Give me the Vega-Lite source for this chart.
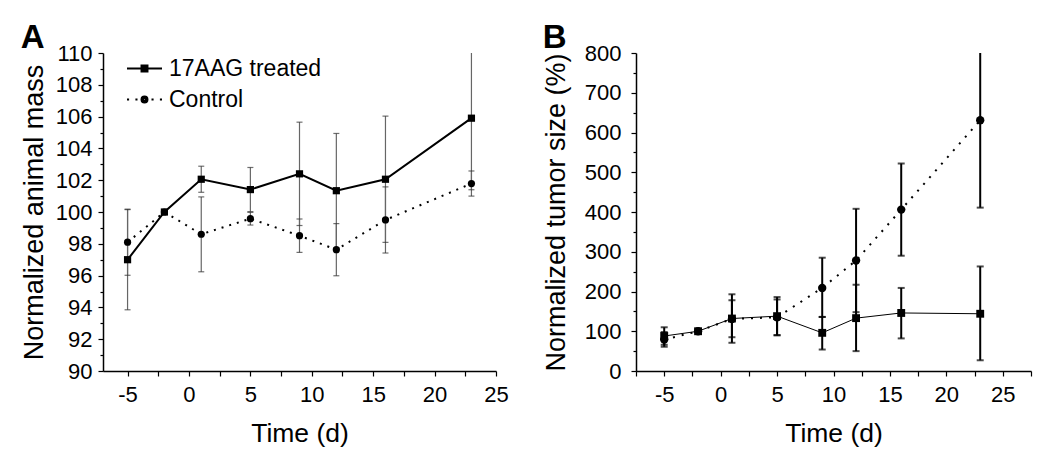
{
  "$schema": "https://vega.github.io/schema/vega-lite/v6.json",
  "background": "white",
  "autosize": {"type": "pad"},
  "padding": {"left": 20, "top": 22, "right": 5, "bottom": 5},
  "spacing": 33,
  "config": {
    "view": {"stroke": null},
    "font": "Liberation Sans",
    "axis": {
      "domainColor": "black", "domainWidth": 1.5, "tickColor": "black", "tickWidth": 1.2, "tickSize": 5,
      "labelFont": "Liberation Sans", "labelFontSize": 22, "labelColor": "black",
      "labelOverlap": false, "labelFlush": false,
      "titleFont": "Liberation Sans", "titleFontWeight": "normal", "titleColor": "black",
      "grid": false
    },
    "axisX": {"labelPadding": 8, "titlePadding": 15, "titleFontSize": 26.5},
    "axisY": {"titleFontSize": 27},
    "legend": {"labelFont": "Liberation Sans", "labelFontSize": 23, "labelColor": "black", "symbolOpacity": 1},
    "title": {"font": "Liberation Sans", "fontSize": 33, "fontWeight": "bold", "anchor": "start", "color": "black", "frame": "bounds", "offset": -13}
  },
  "datasets": {
    "mass": [
      {"series": "17AAG treated", "time": -5, "value": 97.0, "lo": 93.85, "hi": 100.15},
      {"series": "17AAG treated", "time": -2, "value": 100.0, "lo": null, "hi": null},
      {"series": "17AAG treated", "time": 1, "value": 102.06, "lo": 101.24, "hi": 102.88},
      {"series": "17AAG treated", "time": 5, "value": 101.41, "lo": 100.02, "hi": 102.8},
      {"series": "17AAG treated", "time": 9, "value": 102.4, "lo": 99.15, "hi": 105.65},
      {"series": "17AAG treated", "time": 12, "value": 101.34, "lo": 97.74, "hi": 104.94},
      {"series": "17AAG treated", "time": 16, "value": 102.06, "lo": 98.09, "hi": 106.03},
      {"series": "17AAG treated", "time": 23, "value": 105.9, "lo": 101.4, "hi": 110.4},
      {"series": "Control", "time": -5, "value": 98.1, "lo": 96.02, "hi": 100.18},
      {"series": "Control", "time": -2, "value": 100.0, "lo": null, "hi": null},
      {"series": "Control", "time": 1, "value": 98.6, "lo": 96.24, "hi": 100.95},
      {"series": "Control", "time": 5, "value": 99.58, "lo": 99.18, "hi": 99.98},
      {"series": "Control", "time": 9, "value": 98.51, "lo": 97.46, "hi": 99.56},
      {"series": "Control", "time": 12, "value": 97.63, "lo": 95.99, "hi": 99.27},
      {"series": "Control", "time": 16, "value": 99.5, "lo": 97.42, "hi": 101.58},
      {"series": "Control", "time": 23, "value": 101.79, "lo": 101.0, "hi": 102.58}
    ],
    "tumor": [
      {"series": "17AAG treated", "time": -5, "value": 88, "lo": 66, "hi": 110},
      {"series": "17AAG treated", "time": -2, "value": 100, "lo": null, "hi": null},
      {"series": "17AAG treated", "time": 1, "value": 132, "lo": 71, "hi": 193},
      {"series": "17AAG treated", "time": 5, "value": 138, "lo": 90, "hi": 186},
      {"series": "17AAG treated", "time": 9, "value": 96, "lo": 54, "hi": 136},
      {"series": "17AAG treated", "time": 12, "value": 133, "lo": 50, "hi": 217},
      {"series": "17AAG treated", "time": 16, "value": 146, "lo": 82, "hi": 209},
      {"series": "17AAG treated", "time": 23, "value": 144, "lo": 27, "hi": 263},
      {"series": "Control", "time": -5, "value": 79, "lo": 61, "hi": 98},
      {"series": "Control", "time": -2, "value": 100, "lo": null, "hi": null},
      {"series": "Control", "time": 1, "value": 131, "lo": 85, "hi": 178},
      {"series": "Control", "time": 5, "value": 135, "lo": 90, "hi": 180},
      {"series": "Control", "time": 9, "value": 209, "lo": 136, "hi": 285},
      {"series": "Control", "time": 12, "value": 278, "lo": 148, "hi": 408},
      {"series": "Control", "time": 16, "value": 406, "lo": 290, "hi": 522},
      {"series": "Control", "time": 23, "value": 631, "lo": 411, "hi": 851}
    ]
  },
  "hconcat": [
    {
      "width": 393, "height": 318,
      "title": {"text": "A"},
      "data": {"name": "mass"},
      "resolve": {"axis": {"y": "independent"}},
      "encoding": {
        "x": {"field": "time", "type": "quantitative", "title": "Time (d)",
          "scale": {"domain": [-7, 25], "nice": false, "zero": false},
          "axis": {"values": [-5, -2.5, 0, 2.5, 5, 7.5, 10, 12.5, 15, 17.5, 20, 22.5, 25],
            "labelExpr": "datum.value % 5 === 0 ? '' + datum.value : ''", "labelOverlap": false}}
      },
      "layer": [
        {"mark": {"type": "rule", "color": "#666", "strokeWidth": 1.2, "clip": true},
         "encoding": {
           "y": {"field": "lo", "type": "quantitative", "title": "Normalized animal mass",
             "scale": {"domain": [90, 110], "nice": false, "zero": false},
             "axis": {"values": [90,91,92,93,94,95,96,97,98,99,100,101,102,103,104,105,106,107,108,109,110],
               "labelExpr": "datum.value % 2 === 0 ? '' + datum.value : ''", "labelOverlap": false,
               "labelPadding": 6, "titlePadding": 6.5,
               "tickSize": {"condition": {"test": "datum.value % 2 === 0", "value": 5}, "value": 3}}},
           "y2": {"field": "hi"}}},
        {"mark": {"type": "tick", "orient": "horizontal", "color": "#333", "size": 6, "thickness": 1.2, "clip": true},
         "encoding": {"y": {"field": "lo", "type": "quantitative", "axis": null}}},
        {"mark": {"type": "tick", "orient": "horizontal", "color": "#333", "size": 6, "thickness": 1.2, "clip": true},
         "encoding": {"y": {"field": "hi", "type": "quantitative", "axis": null}}},
        {"transform": [{"filter": "datum.series === '17AAG treated'"}],
         "mark": {"type": "line", "color": "black", "strokeWidth": 2},
         "encoding": {"y": {"field": "value", "type": "quantitative", "axis": null}}},
        {"transform": [{"filter": "datum.series === 'Control'"}],
         "mark": {"type": "line", "color": "black", "strokeWidth": 2, "strokeDash": [2, 6]},
         "encoding": {"y": {"field": "value", "type": "quantitative", "axis": null}}},
        {"transform": [{"filter": "datum.series === '17AAG treated'"}],
         "mark": {"type": "point", "shape": "square", "filled": true, "opacity": 1, "color": "black", "size": 52},
         "encoding": {"y": {"field": "value", "type": "quantitative", "axis": null}}},
        {"transform": [{"filter": "datum.series === 'Control'"}],
         "mark": {"type": "point", "shape": "circle", "filled": true, "opacity": 1, "color": "black", "size": 52},
         "encoding": {"y": {"field": "value", "type": "quantitative", "axis": null}}},
        {"transform": [{"filter": "datum.time > 1000"}],
         "mark": {"type": "point", "filled": false, "opacity": 1, "color": "black", "strokeWidth": 2, "size": 1225},
         "encoding": {
           "y": {"field": "value", "type": "quantitative", "axis": null},
           "shape": {"field": "series", "type": "nominal",
             "scale": {"domain": ["17AAG treated", "Control"],
               "range": ["M-1,0H1M-0.17,-0.17H0.17V0.17H-0.17ZM-0.08,-0.08H0.08V0.08H-0.08ZM-0.01,-0.01H0.01V0.01H-0.01Z",
                         "M-1,0H-0.88M-0.52,0H-0.4M0.4,0H0.52M0.88,0H1M-0.17,0A0.17,0.17 0 1,1 0.17,0A0.17,0.17 0 1,1 -0.17,0ZM-0.08,0A0.08,0.08 0 1,1 0.08,0A0.08,0.08 0 1,1 -0.08,0ZM-0.01,0A0.01,0.01 0 1,1 0.01,0A0.01,0.01 0 1,1 -0.01,0Z"]},
             "legend": {"title": null, "orient": "none", "legendX": 23, "legendY": -3,
               "symbolSize": 1225, "symbolStrokeWidth": 2, "symbolStrokeColor": "black",
               "labelOffset": 6, "rowPadding": -7}}}}
      ]
    },
    {
      "width": 395, "height": 318,
      "title": {"text": "B"},
      "data": {"name": "tumor"},
      "resolve": {"axis": {"y": "independent"}},
      "encoding": {
        "x": {"field": "time", "type": "quantitative", "title": "Time (d)",
          "scale": {"domain": [-7.5, 27.5], "nice": false, "zero": false},
          "axis": {"values": [-7.5, -5, -2.5, 0, 2.5, 5, 7.5, 10, 12.5, 15, 17.5, 20, 22.5, 25, 27.5],
            "labelExpr": "datum.value % 5 === 0 ? '' + datum.value : ''", "labelOverlap": false}}
      },
      "layer": [
        {"mark": {"type": "rule", "color": "black", "strokeWidth": 2, "clip": true},
         "encoding": {
           "y": {"field": "lo", "type": "quantitative", "title": "Normalized tumor size (%)",
             "scale": {"domain": [0, 800], "nice": false},
             "axis": {"values": [0,50,100,150,200,250,300,350,400,450,500,550,600,650,700,750,800],
               "labelExpr": "datum.value % 100 === 0 ? '' + datum.value : ''", "labelOverlap": false,
               "labelPadding": 10, "titlePadding": 13.5,
               "tickSize": {"condition": {"test": "datum.value % 100 === 0", "value": 5}, "value": 3}}},
           "y2": {"field": "hi"}}},
        {"mark": {"type": "tick", "orient": "horizontal", "color": "black", "size": 7, "thickness": 2, "clip": true},
         "encoding": {"y": {"field": "lo", "type": "quantitative", "axis": null}}},
        {"mark": {"type": "tick", "orient": "horizontal", "color": "black", "size": 7, "thickness": 2, "clip": true},
         "encoding": {"y": {"field": "hi", "type": "quantitative", "axis": null}}},
        {"transform": [{"filter": "datum.series === '17AAG treated'"}],
         "mark": {"type": "line", "color": "black", "strokeWidth": 1},
         "encoding": {"y": {"field": "value", "type": "quantitative", "axis": null}}},
        {"transform": [{"filter": "datum.series === 'Control'"}],
         "mark": {"type": "line", "color": "black", "strokeWidth": 2, "strokeDash": [2, 7]},
         "encoding": {"y": {"field": "value", "type": "quantitative", "axis": null}}},
        {"transform": [{"filter": "datum.series === '17AAG treated'"}],
         "mark": {"type": "point", "shape": "square", "filled": true, "opacity": 1, "color": "black", "size": 62},
         "encoding": {"y": {"field": "value", "type": "quantitative", "axis": null}}},
        {"transform": [{"filter": "datum.series === 'Control'"}],
         "mark": {"type": "point", "shape": "circle", "filled": true, "opacity": 1, "color": "black", "size": 70},
         "encoding": {"y": {"field": "value", "type": "quantitative", "axis": null}}},
        {"transform": [{"filter": "datum.time > 1000"}],
         "mark": {"type": "point", "filled": false, "opacity": 1, "color": "black", "strokeWidth": 1.8, "size": 1089},
         "encoding": {
           "y": {"field": "value", "type": "quantitative", "axis": null},
           "shape": {"field": "series", "type": "nominal",
             "scale": {"domain": ["17AAG treated", "Control"],
               "range": ["M-1,0H1M-0.17,-0.17H0.17V0.17H-0.17ZM-0.08,-0.08H0.08V0.08H-0.08ZM-0.01,-0.01H0.01V0.01H-0.01Z",
                         "M-1,0H-0.88M-0.52,0H-0.4M0.4,0H0.52M0.88,0H1M-0.19,0A0.19,0.19 0 1,1 0.19,0A0.19,0.19 0 1,1 -0.19,0ZM-0.09,0A0.09,0.09 0 1,1 0.09,0A0.09,0.09 0 1,1 -0.09,0ZM-0.01,0A0.01,0.01 0 1,1 0.01,0A0.01,0.01 0 1,1 -0.01,0Z"]},
             "legend": {"title": null, "orient": "none", "legendX": 43, "legendY": -2,
               "symbolSize": 1089, "symbolStrokeWidth": 1.8, "symbolStrokeColor": "black",
               "labelOffset": 7, "rowPadding": -5}}}}
      ]
    }
  ]
}
